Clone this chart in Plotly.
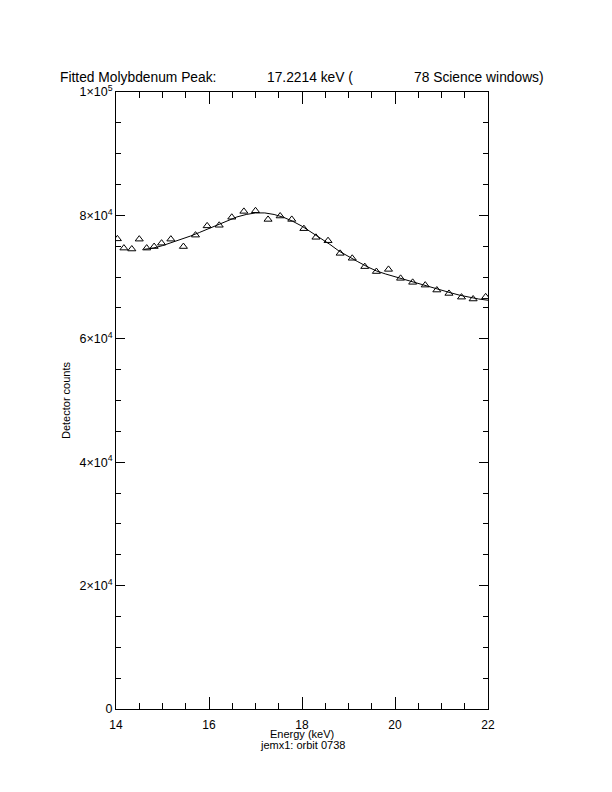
import plotly.graph_objects as go

# Measured data (triangles)
energy = [14.03, 14.17, 14.34, 14.50, 14.66, 14.82, 14.98, 15.18, 15.45, 15.71,
          15.96, 16.22, 16.49, 16.75, 17.00, 17.27, 17.53, 17.78, 18.04, 18.30,
          18.56, 18.82, 19.08, 19.35, 19.60, 19.86, 20.12, 20.38, 20.65, 20.90,
          21.16, 21.43, 21.68, 21.95]
counts = [76200, 74700, 74550, 76150, 74700, 74950, 75500, 76150, 74950, 76800,
          78300, 78400, 79700, 80650, 80750, 79350, 79900, 79350, 77850, 76450,
          75900, 73850, 73050, 71700, 70900, 71250, 69800, 69150, 68700, 67900,
          67350, 66750, 66450, 66800]

# Fitted curve
fit_energy = [14.6, 14.8, 15.0, 15.2, 15.4, 15.6, 15.8, 16.0, 16.2, 16.4,
              16.6, 16.8, 17.0, 17.2, 17.4, 17.6, 17.8, 18.0, 18.2, 18.4,
              18.6, 18.8, 19.0, 19.2, 19.4, 19.6, 19.8, 20.0, 20.2, 20.4,
              20.6, 20.8, 21.0, 21.2, 21.4, 21.6, 21.8, 22.0]
fit_counts = [74500, 74700, 75100, 75600, 76100, 76650, 77250, 77900, 78550, 79200,
              79750, 80150, 80400, 80400, 80150, 79700, 79050, 78250, 77300, 76300,
              75300, 74200, 73300, 72500, 71700, 71000, 70500, 70050, 69600, 69150,
              68700, 68250, 67850, 67450, 67050, 66700, 66450, 66250]

x_ticks = [14, 16, 18, 20, 22]
x_tick_labels = ["14", "16", "18", "20", "22"]
y_ticks = [0, 20000, 40000, 60000, 80000, 100000]
y_tick_labels = ["0", "2×10<sup>4</sup>", "4×10<sup>4</sup>", "6×10<sup>4</sup>",
                 "8×10<sup>4</sup>", "1×10<sup>5</sup>"]

FONT = "Liberation Sans"
PLOT_H = 709 - 92

fig = go.Figure()
fig.add_trace(go.Scatter(x=fit_energy, y=fit_counts, mode="lines",
                         line=dict(color="black", width=1), showlegend=False))
fig.add_trace(go.Scatter(x=energy, y=counts, mode="markers",
                         marker=dict(symbol="triangle-up-open", size=7, color="black",
                                     line=dict(width=1, color="black")),
                         showlegend=False))

fig.update_layout(
    width=612, height=792,
    margin=dict(l=116, r=124, t=92, b=83, autoexpand=False),
    paper_bgcolor="white", plot_bgcolor="white",
    font=dict(family=FONT, size=11, color="black"),
    showlegend=False,
)
fig.update_xaxes(range=[14, 22], tickvals=x_ticks, ticktext=x_tick_labels,
                 ticks="inside", ticklen=12, tickwidth=1, tickcolor="black",
                 showline=True, linecolor="black", linewidth=1, mirror="ticks",
                 showgrid=False, zeroline=False, ticklabelstandoff=5,
                 minor=dict(dtick=0.5, ticks="inside", ticklen=6, tickcolor="black", showgrid=False),
                 tickfont=dict(size=12))
fig.update_yaxes(range=[0, 100000], tickvals=y_ticks, ticktext=y_tick_labels,
                 ticks="inside", ticklen=9, tickwidth=1, tickcolor="black",
                 showline=True, linecolor="black", linewidth=1, mirror="ticks",
                 showgrid=False, zeroline=False,
                 minor=dict(dtick=5000, ticks="inside", ticklen=5, tickcolor="black", showgrid=False),
                 tickfont=dict(size=12.5),
                 title=dict(text="Detector counts", font=dict(size=11), standoff=6))

# Title pieces
for txt, xp in [("Fitted Molybdenum Peak:", 58), ("17.2214 keV (", 265),
                ("78 Science windows)", 412)]:
    fig.add_annotation(text=txt, xref="paper", yref="paper",
                       x=(xp - 116) / (488 - 116), y=(709 - 78) / PLOT_H,
                       xanchor="left", yanchor="middle", showarrow=False,
                       font=dict(size=13.8, family=FONT))
for txt, yp in [("Energy (keV)", 734), ("jemx1: orbit 0738", 745)]:
    fig.add_annotation(text=txt, xref="paper", yref="paper",
                       x=0.5, y=-(yp - 709) / PLOT_H, xanchor="center", yanchor="middle",
                       showarrow=False, font=dict(size=11, family=FONT))

fig.write_html("out.html", config={"displayModeBar": False},
               post_script="document.body.style.margin='0';")
